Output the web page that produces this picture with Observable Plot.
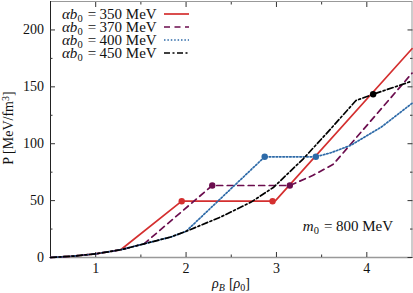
<!DOCTYPE html>
<html><head><meta charset="utf-8">
<script src="https://cdn.jsdelivr.net/npm/d3@7"></script>
<script src="https://cdn.jsdelivr.net/npm/@observablehq/plot@0.6"></script>
<style>body{margin:0;background:#fff}svg{display:block}</style>
</head><body><div id="chart"></div>
<script>
// common (hadronic) branch
const hadronRho = [0.5, 0.75, 1.0, 1.277, 1.535, 1.83, 2.0];
const hadronP   = [0,   1.2,  3.2, 6.8,   12,    18,   23];
// branches: index in hadron arrays where each series leaves the common curve
const seriesNames = ["350", "370", "400", "450"];
const branchAt = [3, 4, 6, 6];
const branchRho = [
  [1.952, 2.957, 2.99, 4.5],
  [2.29, 3.148, 3.4, 3.63, 4.5],
  [2.87, 3.436, 3.6, 3.82, 4.16, 4.5],
  [2.38, 2.72, 2.97, 3.3, 3.6, 3.88, 4.07, 4.5]
];
const branchP = [
  [49.5, 49.5, 50, 183.5],
  [63.3, 63.3, 72, 82, 162],
  [88.5, 88.5, 92, 98.5, 114.6, 135.5],
  [35.5, 48.7, 61.8, 87, 113, 138, 143.5, 155]
];
// phase-boundary dots
const dotRho = [[1.952, 2.957], [2.29, 3.148], [2.87, 3.436], [4.07]];
const dotP   = [[49.5, 49.5],   [63.3, 63.3],  [88.5, 88.5],  [143.5]];

const xMajor = [1, 2, 3, 4];
const xMinor = [1.5, 2.5, 3.5];
const yMajor = [0, 50, 100, 150, 200];
const yMinor = [25, 75, 125, 175];
const xDomain = [0.5, 4.5];
const yDomain = [0, 225];

const colors = ["#d42f2f", "#6b0d4e", "#2d6aa8", "#000000"];
const dashes = [null, "6,4.5", "1.5,1.9", "6,2.5,2,2.5"];

const lineData = seriesNames.map((s, i) => {
  const pts = [];
  for (let k = 0; k <= branchAt[i]; k++) pts.push({series: s, rho: hadronRho[k], P: hadronP[k]});
  branchRho[i].forEach((r, k) => pts.push({series: s, rho: r, P: branchP[i][k]}));
  return pts;
});
const dotData = seriesNames.map((s, i) => dotRho[i].map((r, k) => ({series: s, rho: r, P: dotP[i][k]})));

const font = "Liberation Serif";
const tickColor = "#333";
const marks = [
  Plot.frame({stroke: "#999"}),
  Plot.ruleY([yDomain[0]], {stroke: "#999", strokeWidth: 1.6}),
  Plot.ruleX([xDomain[0]], {stroke: "#222"}),
  Plot.axisX({anchor: "bottom", ticks: xMajor, tickSize: -5, fill: "none", stroke: tickColor, label: null}),
  Plot.axisX({anchor: "bottom", ticks: xMinor, tickSize: -2.5, fill: "none", stroke: tickColor, label: null}),
  Plot.axisX({anchor: "top", ticks: xMajor, tickSize: -5, fill: "none", stroke: tickColor, label: null}),
  Plot.axisX({anchor: "top", ticks: xMinor, tickSize: -2.5, fill: "none", stroke: tickColor, label: null}),
  Plot.axisY({anchor: "left", ticks: yMajor, tickSize: -5, fill: "none", stroke: tickColor, label: null}),
  Plot.axisY({anchor: "left", ticks: yMinor, tickSize: -2.5, fill: "none", stroke: tickColor, label: null}),
  Plot.axisY({anchor: "right", ticks: yMajor, tickSize: -5, fill: "none", stroke: tickColor, label: null}),
  Plot.axisY({anchor: "right", ticks: yMinor, tickSize: -2.5, fill: "none", stroke: tickColor, label: null}),
  Plot.text(xMajor, {x: d => d, frameAnchor: "bottom", text: d => String(d), dy: 11, lineAnchor: "middle",
    fontSize: 14, fill: "#111"}),
  Plot.text(yMajor, {y: d => d, frameAnchor: "left", text: d => String(d), dx: -6.5, textAnchor: "end",
    lineAnchor: "middle", fontSize: 14, fill: "#111"})
];
seriesNames.forEach((s, i) => {
  marks.push(Plot.line(lineData[i], {x: "rho", y: "P", stroke: colors[i], strokeWidth: 1.7,
    strokeDasharray: dashes[i], curve: "linear"}));
});
seriesNames.forEach((s, i) => {
  marks.push(Plot.dot(dotData[i], {x: "rho", y: "P", fill: colors[i], stroke: "none", r: 3.2}));
});

const plot = Plot.plot({
  width: 413, height: 293,
  marginLeft: 50, marginRight: 1.5, marginTop: 1, marginBottom: 36,
  style: {fontFamily: font, fontSize: "14px", background: "#fff", color: "#111"},
  x: {domain: xDomain, label: null, axis: null},
  y: {domain: yDomain, label: null, axis: null},
  marks
});
document.getElementById("chart").appendChild(plot);

// text annotations (legend, labels)
const svg = d3.select(plot);
const g = svg.append("g").attr("font-family", font).attr("font-size", 15).attr("fill", "#111")
  .attr("text-anchor", "start");
function mathText(sel, base, sub, value) {
  sel.append("tspan").attr("font-style", "italic").text(base);
  sel.append("tspan").attr("font-size", 10.5).attr("dy", 2.5).text(sub);
  sel.append("tspan").attr("dy", -2.5).attr("dx", 5).text("=");
  sel.append("tspan").attr("dx", 3.5).text(value + " MeV");
}
seriesNames.forEach((s, i) => {
  const yb = 19 + i * 13;
  const t = g.append("text").attr("x", 62).attr("y", yb);
  mathText(t, "αb", "0", s);
  g.append("line").attr("x1", 164).attr("x2", 189).attr("y1", yb - 5).attr("y2", yb - 5)
    .attr("stroke", colors[i]).attr("stroke-width", 1.7).attr("stroke-dasharray", dashes[i]);
});
const ann = g.append("text").attr("x", 393).attr("y", 231).attr("text-anchor", "end");
mathText(ann, "m", "0", "800");
const xl = g.append("text").attr("x", 231).attr("y", 288).attr("text-anchor", "middle").attr("font-size", 14);
xl.append("tspan").attr("font-style", "italic").text("ρ");
xl.append("tspan").attr("font-size", 10).attr("font-style", "italic").attr("dy", 3).text("B");
xl.append("tspan").attr("dy", -3).attr("dx", 4).text("[");
xl.append("tspan").attr("font-style", "italic").text("ρ");
xl.append("tspan").attr("font-size", 10).attr("dy", 3).text("0");
xl.append("tspan").attr("dy", -3).text("]");
const yl = g.append("text").attr("transform", "translate(12.5,128) rotate(-90)").attr("text-anchor", "middle")
  .attr("font-size", 14);
yl.append("tspan").text("P [MeV/fm");
yl.append("tspan").attr("font-size", 10).attr("dy", -4).text("3");
yl.append("tspan").attr("dy", 4).text("]");
</script>
</body></html>
